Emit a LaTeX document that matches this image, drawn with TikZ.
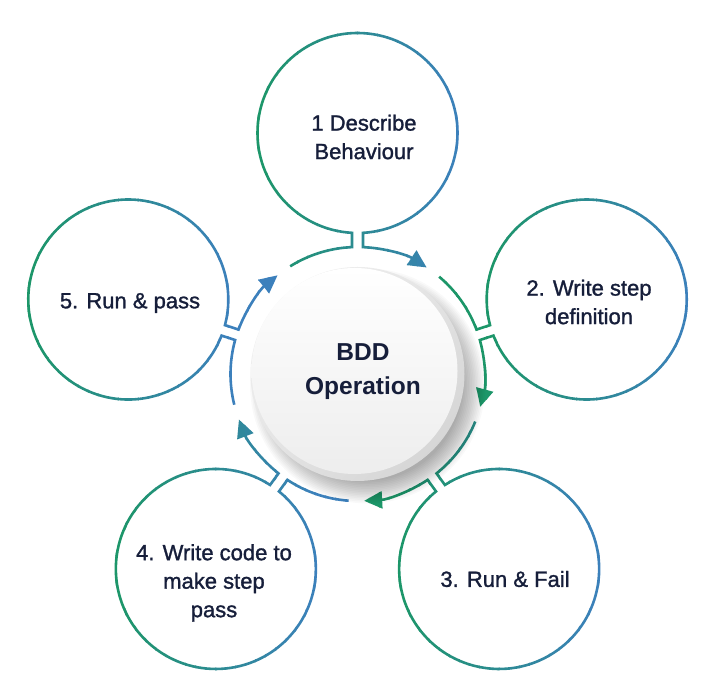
\documentclass[tikz,border=0pt]{standalone}
\usepackage{fontspec}
\setmainfont{Liberation Sans}
\newfontfamily\medfont[FakeBold=1.3]{Liberation Sans}
\usetikzlibrary{arrows.meta,calc}
\definecolor{cgreen}{RGB}{28,150,104}
\definecolor{cblue}{RGB}{60,128,188}
\definecolor{ink}{RGB}{22,30,58}
\tikzset{
  ringline/.style={line width=2.6pt,-{Triangle[length=18pt,width=17pt]}},
  steptext/.style={text=ink,align=center,font=\medfont\fontsize{22}{28.5}\selectfont},
  hubtext/.style={text=ink,align=center,font=\fontsize{24.5}{34}\selectfont\bfseries}
}
\newcommand\ringgroup[1]{%
  \pgfmathsetmacro\sx{357.5+241*cos(#1)}%
  \foreach \i in {0,...,35}{%
    \pgfmathsetmacro\xa{\sx-180+\i*10}%
    \pgfmathtruncatemacro\pc{min(100,max(0,(\xa+5-\sx+100)/2))}%
    \begin{scope}
      \clip (\xa-0.6,0) rectangle (\xa+10.6,700);
      \draw[ringline, draw=cblue!\pc!cgreen]
        ($(C)+(#1+32:127)$) arc[start angle=#1+32, end angle=#1+2.48, radius=127]
        -- ($(C)+(#1:241)+(#1+176.85:100)$) arc[start angle=#1+176.85, end angle=#1-176.85, radius=100]
        -- ($(C)+(#1-2.48:127)$) arc[start angle=#1-2.48, end angle=#1-33, radius=127];
    \end{scope}
  }%
}
\begin{document}
\begin{tikzpicture}[x=1pt,y=1pt]
\useasboundingbox (0,0) rectangle (709,700);
\fill[white] (0,0) rectangle (709,700);
\coordinate (C) at (357.5,326);
% ring groups (circle + neck + ring arcs)
\ringgroup{90}
\ringgroup{18}
\ringgroup{-54}
\ringgroup{-126}
\ringgroup{162}
% hub shadow
\foreach \i in {0,...,14}{
  \fill[black,opacity=0.024] ($(C)+(10,-12)$) circle (95+\i*1.6);
}
% hub disc
\shade[left color=gray!12, right color=gray!32, shading angle=45] (C) circle (107);
\shade[top color=white, bottom color=gray!14] ($(C)+(-3,3)$) circle (103);
% texts
\node[hubtext] (hub) at (363,328) {BDD\\Operation};
\node[steptext] (t1) at (364,563) {1 Describe\\Behaviour};
\node[steptext] (t2) at (589,398) {2. Write step\\definition};
\node[steptext] (t3) at (505,121) {3. Run \& Fail};
\node[steptext] (t4) at (214,117) {4. Write code to\\make step\\pass};
\node[steptext] (t5) at (130,397) {5. Run \& pass};
\end{tikzpicture}
\end{document}
